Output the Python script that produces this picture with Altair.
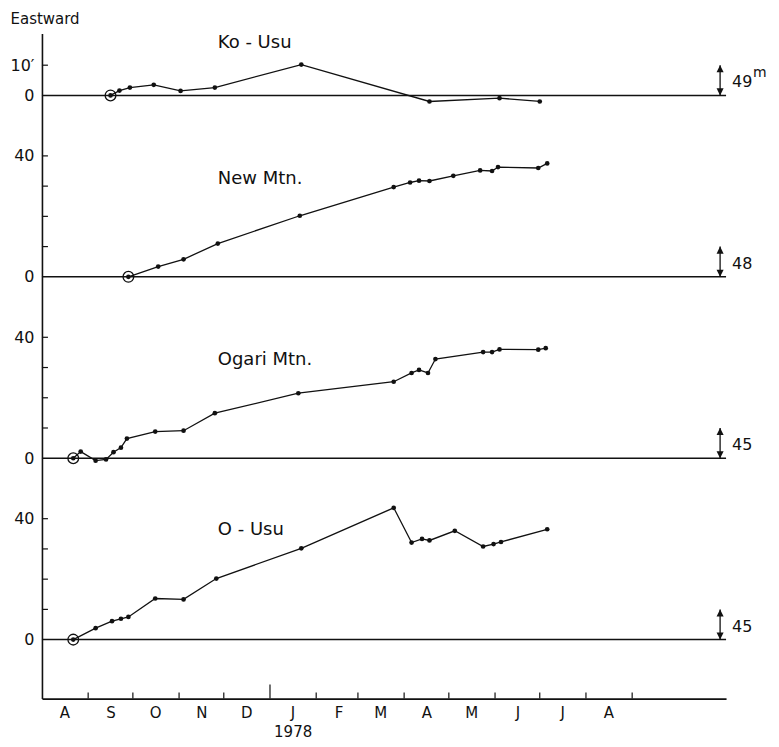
import altair as alt
import pandas as pd

# ---------------- data ----------------
station_names = ["Ko - Usu", "New  Mtn.", "Ogari  Mtn.", "O - Usu"]
height_labels = ["49", "48", "45", "45"]
height_unit = "m"
month_labels = ["A", "S", "O", "N", "D", "J", "F", "M", "A", "M", "J", "J", "A"]
year_label = "1978"
y_title = "Eastward"
panel_top_labels = ["10′", "40", "40", "40"]
panel_top_values = [10, 40, 40, 40]

ko_usu_dates = ["1977-09-16", "1977-09-22", "1977-09-29", "1977-10-15", "1977-11-02",
                "1977-11-25", "1978-01-22", "1978-04-18", "1978-06-04", "1978-07-01"]
ko_usu_values = [0, 1.6, 2.6, 3.5, 1.5, 2.6, 10.2, -2.0, -0.9, -2.0]

new_mtn_dates = ["1977-09-28", "1977-10-18", "1977-11-04", "1977-11-27", "1978-01-21",
                 "1978-03-25", "1978-04-05", "1978-04-11", "1978-04-18", "1978-05-04",
                 "1978-05-22", "1978-05-30", "1978-06-03", "1978-06-30", "1978-07-06"]
new_mtn_values = [0, 3.4, 5.8, 11.0, 20.2, 29.7, 31.2, 31.8, 31.7, 33.4, 35.2, 35.0, 36.3, 36.0, 37.5]

ogari_dates = ["1977-08-22", "1977-08-27", "1977-09-06", "1977-09-13", "1977-09-18",
               "1977-09-23", "1977-09-27", "1977-10-16", "1977-11-04", "1977-11-25",
               "1978-01-20", "1978-03-25", "1978-04-06", "1978-04-11", "1978-04-17",
               "1978-04-22", "1978-05-24", "1978-05-30", "1978-06-04", "1978-06-30", "1978-07-05"]
ogari_values = [0, 2.2, -0.8, -0.4, 2.0, 3.5, 6.5, 8.8, 9.1, 14.9, 21.5, 25.3, 28.2, 29.2,
                28.2, 32.8, 35.1, 35.1, 36.0, 35.9, 36.4]

o_usu_dates = ["1977-08-22", "1977-09-06", "1977-09-17", "1977-09-23", "1977-09-28",
               "1977-10-16", "1977-11-04", "1977-11-26", "1978-01-22", "1978-03-25",
               "1978-04-06", "1978-04-13", "1978-04-18", "1978-05-05", "1978-05-24",
               "1978-05-31", "1978-06-05", "1978-07-06"]
o_usu_values = [0, 3.8, 6.1, 6.9, 7.5, 13.6, 13.3, 20.2, 30.2, 43.6, 32.1, 33.3, 32.8, 36.0,
                30.8, 31.6, 32.3, 36.5]

# ---------------- layout ----------------
W, H = 685, 666
FONT = "DejaVu Sans"
INK = "#111111"
stack_offsets = [180, 120, 60, 0]
label_rise = [17.4, 32.5, 32.4, 36.3]
label_date = "1977-11-27"
arrow_date = "1978-10-30"

series = [
    (ko_usu_dates, ko_usu_values),
    (new_mtn_dates, new_mtn_values),
    (ogari_dates, ogari_values),
    (o_usu_dates, o_usu_values),
]

rows = []
for name, off, (ds, vs) in zip(station_names, stack_offsets, series):
    for i, (d, v) in enumerate(zip(ds, vs)):
        rows.append({"station": name, "date": d, "pos": v + off, "first": i == 0})
df = pd.DataFrame(rows)

panels = pd.DataFrame({
    "station": station_names,
    "pos": stack_offsets,
    "label_pos": [o + r for o, r in zip(stack_offsets, label_rise)],
    "label_date": label_date,
    "date": arrow_date,
    "top": [o + 10 for o in stack_offsets],
    "hlab": height_labels,
    "hlab_pos": [o + 4.3 for o in stack_offsets],
    "unit": [height_unit, "", "", ""],
    "unit_pos": [o + 7.3 for o in stack_offsets],
})

# axis ticks (drawn inward)
ytick_rows = []
for off, tv in zip(stack_offsets, panel_top_values):
    for t in range(10, tv + 1, 10):
        ytick_rows.append({"pos": off + t})
yticks = pd.DataFrame(ytick_rows)

month_starts = []
for k in range(1, 14):
    y = 1977 + (7 + k) // 12
    m = (7 + k) % 12 + 1
    month_starts.append(f"{y}-{m:02d}-01")
xticks = pd.DataFrame({"date": [d for d in month_starts if d != "1978-01-01"]})
year_tick = pd.DataFrame({"date": ["1978-01-01"]})

# y-axis label values / text
ylab_vals, ylab_txt = [], []
for off, tv, tl in zip(stack_offsets, panel_top_values, panel_top_labels):
    ylab_vals += [off + tv, off]
    ylab_txt += [tl, "0"]
ylab_expr = " : ".join(f"datum.value == {v} ? '{t}'" for v, t in zip(ylab_vals, ylab_txt)) + " : ''"

month_arr = "[" + ",".join(f"'{m}'" for m in month_labels) + "]"
xlab_expr = f"{month_arr}[(utcyear(datum.value)-1977)*12 + utcmonth(datum.value) - 7]"

xs = alt.Scale(type="utc", domain=[alt.DateTime(year=1977, month=8, date=1, utc=True),
                                   alt.DateTime(year=1978, month=11, date=3, utc=True)])
ys = alt.Scale(domain=[-19.5, 200.5], nice=False, zero=False)

x_axis = alt.Axis(
    values=[alt.DateTime(year=1977 + (6 + k) // 12, month=(6 + k) % 12 + 1, date=16, utc=True)
            for k in range(1, 14)],
    labelExpr=xlab_expr, ticks=False, grid=False, labelFlush=False,
    domainColor=INK, domainWidth=1.6, labelColor=INK, labelFont=FONT, labelFontSize=15,
    labelPadding=7, title=year_label, titleX=251, titleY=33, titleAlign="center",
    titleBaseline="middle", titleFont=FONT, titleFontSize=15, titleFontWeight="normal",
    titleColor=INK,
)
y_axis = alt.Axis(
    values=ylab_vals, labelExpr=ylab_expr, ticks=False, grid=False,
    domainColor=INK, domainWidth=1.6, labelColor=INK, labelFont=FONT, labelFontSize=16,
    labelPadding=8, title=y_title, titleAngle=0, titleX=-32, titleY=-15, titleAlign="left",
    titleBaseline="middle", titleFont=FONT, titleFontSize=15, titleFontWeight="normal",
    titleColor=INK,
)

X = lambda f="date": alt.X(f"{f}:T", scale=xs, axis=x_axis)
Y = lambda f="pos": alt.Y(f"{f}:Q", scale=ys, axis=y_axis)

lines = alt.Chart(df).mark_line(color=INK, strokeWidth=1.3).encode(
    x=X(), y=Y(), detail="station:N",
)
dots = alt.Chart(df).mark_circle(color=INK, size=22, opacity=1).encode(x=X(), y=Y())
rings = alt.Chart(df[df["first"]]).mark_point(
    color=INK, size=115, filled=False, strokeWidth=1.3, opacity=1
).encode(x=X(), y=Y())

baselines = alt.Chart(panels).mark_rule(color=INK, strokeWidth=1.5).encode(y=Y())
ytk = alt.Chart(yticks).mark_rule(color=INK, strokeWidth=1.2).encode(
    y=Y(), x=alt.value(0), x2=alt.value(6))
xtk = alt.Chart(xticks).mark_rule(color=INK, strokeWidth=1.2).encode(
    x=X(), y=alt.value(H), y2=alt.value(H - 6))
ytk_year = alt.Chart(year_tick).mark_rule(color=INK, strokeWidth=1.2).encode(
    x=X(), y=alt.value(H), y2=alt.value(H - 14))

names = alt.Chart(panels).mark_text(
    align="left", baseline="middle", font=FONT, fontSize=18, color=INK
).encode(x=X("label_date"), y=Y("label_pos"), text="station:N")

stems = alt.Chart(panels).mark_rule(color=INK, strokeWidth=1.3).encode(
    x=X(), y=Y(), y2=alt.Y2("top:Q"))
heads_up = alt.Chart(panels).mark_point(
    shape="M0,0L0.5,1L-0.5,1Z", size=200, filled=True, color=INK, opacity=1, strokeWidth=0
).encode(x=X(), y=Y("top"))
heads_dn = alt.Chart(panels).mark_point(
    shape="M0,0L0.5,-1L-0.5,-1Z", size=200, filled=True, color=INK, opacity=1, strokeWidth=0
).encode(x=X(), y=Y())
hlabels = alt.Chart(panels).mark_text(
    align="left", baseline="middle", dx=12, font=FONT, fontSize=16, color=INK
).encode(x=X(), y=Y("hlab_pos"), text="hlab:N")
units = alt.Chart(panels).mark_text(
    align="left", baseline="middle", dx=33, font=FONT, fontSize=14, color=INK
).encode(x=X(), y=Y("unit_pos"), text="unit:N")

chart = alt.layer(
    lines, baselines, ytk, xtk, ytk_year, dots, rings, names,
    stems, heads_up, heads_dn, hlabels, units,
).properties(
    width=W, height=H,
    autosize=alt.AutoSizeParams(type="none"),
    padding={"left": 34, "top": 25, "right": 45, "bottom": 46},
).configure_view(stroke=None)

chart.save("out.html", embed_options={"renderer": "svg", "actions": False})
